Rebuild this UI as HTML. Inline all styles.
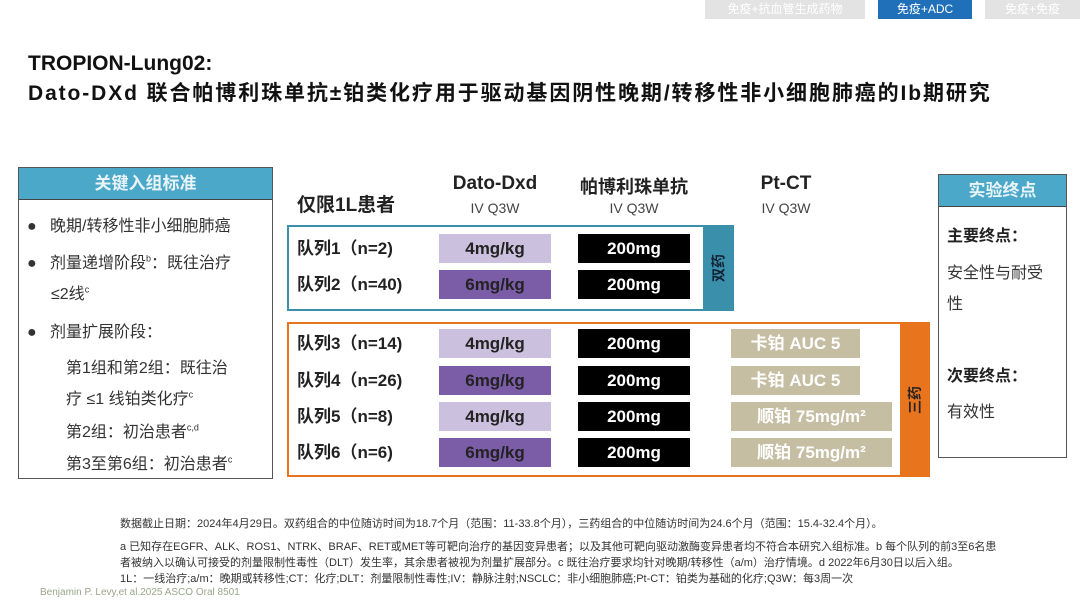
<!DOCTYPE html>
<html><head><meta charset="utf-8"><style>
*{margin:0;padding:0;box-sizing:border-box}
body{width:1080px;height:608px;background:#fff;position:relative;overflow:hidden;font-family:"Liberation Sans","Noto Sans CJK SC",sans-serif;color:#222}
.a{position:absolute;white-space:nowrap}
.tab{position:absolute;top:0;height:19px;color:#fff;font-size:12px;text-align:center;line-height:19px}
.cell{position:absolute;height:29px;line-height:29px;text-align:center;font-weight:bold;font-size:17px}
.lp{background:#cbc0dd;color:#222;left:439px;width:112px}
.dp{background:#7b5da7;color:#222;left:439px;width:112px}
.bk{background:#000;color:#fff;left:578px;width:112px}
.tn{background:#c6bea3;color:#fff;left:731px}
.coh{position:absolute;left:297px;font-size:17px;font-weight:bold;line-height:29px}
.li{position:absolute;font-size:16px;color:#333}
.fn{position:absolute;left:120px;font-size:11px;color:#333;white-space:nowrap}
.rot{position:absolute;font-weight:bold;font-size:14px;transform:rotate(-90deg);white-space:nowrap}
</style></head><body>
<div class="tab" style="left:705px;width:160px;background:#e3e3e3">免疫+抗血管生成药物</div>
<div class="tab" style="left:878px;width:94px;background:#1f70b8">免疫+ADC</div>
<div class="tab" style="left:985px;width:95px;background:#e3e3e3">免疫+免疫</div>
<div class="a" style="left:28px;top:52px;font-size:21px;font-weight:bold;color:#111">TROPION-Lung02:</div>
<div class="a" style="left:28px;top:77px;font-size:21px;font-weight:bold;color:#111;letter-spacing:1.9px">Dato-DXd 联合帕博利珠单抗±铂类化疗用于驱动基因阴性晚期/转移性非小细胞肺癌的Ib期研究</div>

<div class="a" style="left:18px;top:167px;width:255px;height:312px;border:1.5px solid #555"></div>
<div class="a" style="left:19px;top:168px;width:253px;height:32px;background:#4ba8c8;border-bottom:1.5px solid #444;color:#e8f4f8;font-weight:bold;font-size:17px;text-align:center;line-height:32px">关键入组标准</div>
<div class="li" style="left:27px;top:212px">●&nbsp;&nbsp;&nbsp;晚期/转移性非小细胞肺癌</div>
<div class="li" style="left:27px;top:249px">●&nbsp;&nbsp;&nbsp;剂量递增阶段<sup style="font-size:9px">b</sup>：既往治疗</div>
<div class="li" style="left:51px;top:280px">≤2线<sup style="font-size:9px">c</sup></div>
<div class="li" style="left:27px;top:318px">●&nbsp;&nbsp;&nbsp;剂量扩展阶段：</div>
<div class="li" style="left:66px;top:354px">第1组和第2组：既往治</div>
<div class="li" style="left:66px;top:385px">疗 ≤1 线铂类化疗<sup style="font-size:9px">c</sup></div>
<div class="li" style="left:66px;top:418px">第2组：初治患者<sup style="font-size:9px">c,d</sup></div>
<div class="li" style="left:66px;top:450px">第3至第6组：初治患者<sup style="font-size:9px">c</sup></div>

<div class="a" style="left:297px;top:190px;font-size:19px;font-weight:bold">仅限1L患者</div>
<div class="a" style="left:439px;top:173px;width:112px;text-align:center;font-size:19px;font-weight:bold">Dato-Dxd</div>
<div class="a" style="left:439px;top:200px;width:112px;text-align:center;font-size:14px;color:#444">IV Q3W</div>
<div class="a" style="left:568px;top:173px;width:132px;text-align:center;font-size:18px;font-weight:bold">帕博利珠单抗</div>
<div class="a" style="left:578px;top:200px;width:112px;text-align:center;font-size:14px;color:#444">IV Q3W</div>
<div class="a" style="left:730px;top:173px;width:112px;text-align:center;font-size:19px;font-weight:bold">Pt-CT</div>
<div class="a" style="left:730px;top:200px;width:112px;text-align:center;font-size:14px;color:#444">IV Q3W</div>

<div class="a" style="left:287px;top:225px;width:447px;height:86px;border:2px solid #3a8fab"></div>
<div class="a" style="left:703px;top:225px;width:31px;height:86px;background:#3a8fab"></div>
<div class="rot" style="left:704px;top:259px;width:29px;height:18px;line-height:18px;text-align:center;color:#123">双药</div>
<div class="a" style="left:287px;top:322px;width:643px;height:155px;border:2px solid #e8741e"></div>
<div class="a" style="left:900px;top:322px;width:30px;height:155px;background:#e8741e"></div>
<div class="rot" style="left:900px;top:391px;width:30px;height:18px;line-height:18px;text-align:center;color:#222">三药</div>

<div class="coh" style="top:234px">队列1（n=2)</div>
<div class="coh" style="top:270px">队列2（n=40)</div>
<div class="coh" style="top:329px">队列3（n=14)</div>
<div class="coh" style="top:366px">队列4（n=26)</div>
<div class="coh" style="top:402px">队列5（n=8)</div>
<div class="coh" style="top:438px">队列6（n=6)</div>

<div class="cell lp" style="top:234px">4mg/kg</div>
<div class="cell dp" style="top:270px">6mg/kg</div>
<div class="cell lp" style="top:329px">4mg/kg</div>
<div class="cell dp" style="top:366px">6mg/kg</div>
<div class="cell lp" style="top:402px">4mg/kg</div>
<div class="cell dp" style="top:438px">6mg/kg</div>

<div class="cell bk" style="top:234px">200mg</div>
<div class="cell bk" style="top:270px">200mg</div>
<div class="cell bk" style="top:329px">200mg</div>
<div class="cell bk" style="top:366px">200mg</div>
<div class="cell bk" style="top:402px">200mg</div>
<div class="cell bk" style="top:438px">200mg</div>

<div class="cell tn" style="top:329px;width:129px">卡铂 AUC 5</div>
<div class="cell tn" style="top:366px;width:129px">卡铂 AUC 5</div>
<div class="cell tn" style="top:402px;width:161px">顺铂 75mg/m²</div>
<div class="cell tn" style="top:438px;width:161px">顺铂 75mg/m²</div>

<div class="a" style="left:938px;top:174px;width:129px;height:284px;border:1.5px solid #555"></div>
<div class="a" style="left:939px;top:175px;width:127px;height:32px;background:#4ba8c8;border-bottom:1.5px solid #444;color:#e8f4f8;font-weight:bold;font-size:17px;text-align:center;line-height:32px">实验终点</div>
<div class="a" style="left:947px;top:222px;font-size:16px;font-weight:bold">主要终点：</div>
<div class="a" style="left:947px;top:259px;font-size:16px;color:#333">安全性与耐受</div>
<div class="a" style="left:947px;top:290px;font-size:16px;color:#333">性</div>
<div class="a" style="left:947px;top:362px;font-size:16px;font-weight:bold">次要终点：</div>
<div class="a" style="left:947px;top:398px;font-size:16px;color:#333">有效性</div>

<div class="fn" style="top:515px">数据截止日期：2024年4月29日。双药组合的中位随访时间为18.7个月（范围：11-33.8个月），三药组合的中位随访时间为24.6个月（范围：15.4-32.4个月）。</div>
<div class="fn" style="top:538px">a 已知存在EGFR、ALK、ROS1、NTRK、BRAF、RET或MET等可靶向治疗的基因变异患者；以及其他可靶向驱动激酶变异患者均不符合本研究入组标准。b 每个队列的前3至6名患</div>
<div class="fn" style="top:554px">者被纳入以确认可接受的剂量限制性毒性（DLT）发生率，其余患者被视为剂量扩展部分。c 既往治疗要求均针对晚期/转移性（a/m）治疗情境。d 2022年6月30日以后入组。</div>
<div class="fn" style="top:570px">1L：一线治疗;a/m：晚期或转移性;CT：化疗;DLT：剂量限制性毒性;IV：静脉注射;NSCLC：非小细胞肺癌;Pt-CT：铂类为基础的化疗;Q3W：每3周一次</div>
<div class="a" style="left:40px;top:587px;font-size:10px;color:#9aa58a">Benjamin P. Levy,et al.2025 ASCO Oral 8501</div>
</body></html>
